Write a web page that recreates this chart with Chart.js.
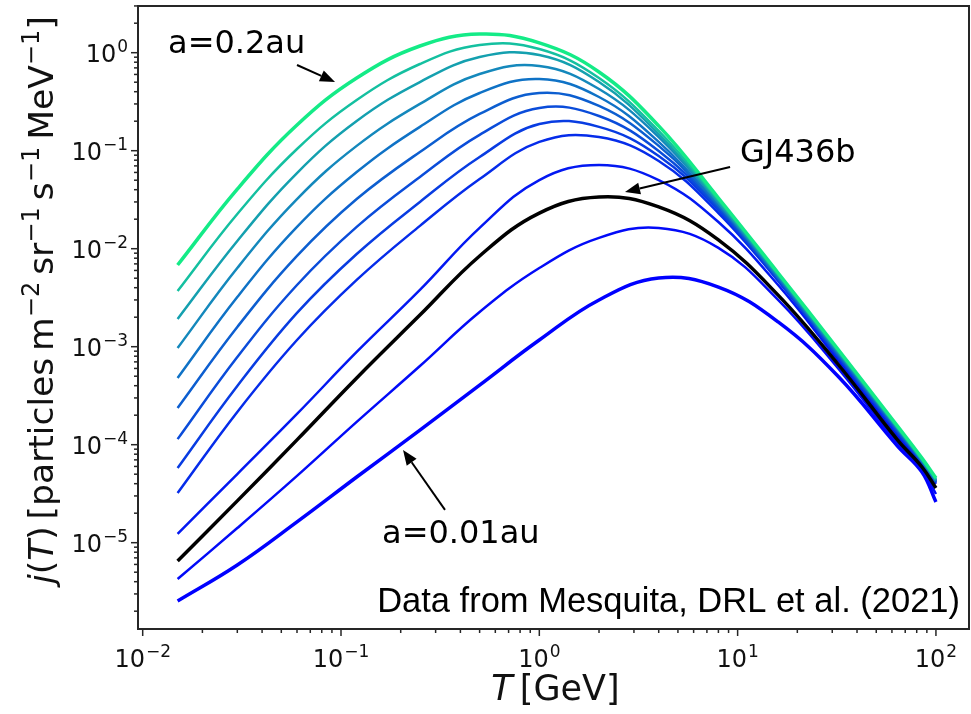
<!DOCTYPE html>
<html lang="en">
<head>
    <meta charset="UTF-8">
    <title>Cosmic ray spectra vs orbital distance</title>
    <style>
        html, body {
            margin: 0;
            padding: 0;
            background: #fff;
        }
        #wrap {
            width: 971px;
            height: 714px;
        }
    </style>
</head>
<body>
    <div id="wrap"><canvas id="crChart" width="971" height="714"></canvas></div>

    <script src="https://cdn.jsdelivr.net/npm/chart.js"></script>
    <script>
        // kinetic energy T [GeV]
        const energies = [0.015, 0.03, 0.06, 0.12, 0.25, 0.5, 1, 2, 4, 8, 16, 32, 64, 85, 100];

        // j(T) for each orbital distance, outermost (a=0.2au) first
        const flux01 = [6.82e-3, 4.06e-2, 0.183, 0.552, 1.17, 1.55, 1.26, 0.636, 0.179, 3.29e-2, 5.65e-3, 9.48e-4, 1.55e-4, 7.31e-5, 4.57e-5];
        const flux02 = [3.70e-3, 2.26e-2, 0.104, 0.329, 0.767, 1.20, 1.09, 0.552, 0.159, 3.14e-2, 5.52e-3, 9.25e-4, 1.52e-4, 7.14e-5, 4.47e-5];
        const flux03 = [1.92e-3, 1.20e-2, 5.92e-2, 0.201, 0.502, 0.904, 0.948, 0.502, 0.148, 3.00e-2, 5.39e-3, 9.04e-4, 1.48e-4, 6.98e-5, 4.36e-5];
        const flux04 = [9.70e-4, 6.35e-3, 3.21e-2, 0.112, 0.300, 0.606, 0.732, 0.426, 0.138, 2.93e-2, 5.26e-3, 8.83e-4, 1.48e-4, 6.98e-5, 4.36e-5];
        const flux05 = [4.80e-4, 3.21e-3, 1.67e-2, 6.06e-2, 0.175, 0.388, 0.539, 0.353, 0.123, 2.79e-2, 5.14e-3, 8.63e-4, 1.45e-4, 6.82e-5, 4.27e-5];
        const flux06 = [2.37e-4, 1.59e-3, 8.43e-3, 3.21e-2, 9.70e-2, 0.237, 0.388, 0.286, 0.112, 2.73e-2, 5.02e-3, 8.42e-4, 1.41e-4, 6.82e-5, 4.27e-5];
        const flux07 = [1.14e-4, 7.85e-4, 4.26e-3, 1.67e-2, 5.39e-2, 0.145, 0.273, 0.226, 9.93e-2, 2.60e-2, 4.91e-3, 8.22e-4, 1.38e-4, 6.66e-5, 4.16e-5];
        const flux08 = [5.78e-5, 3.97e-4, 2.21e-3, 8.83e-3, 3.00e-2, 8.62e-2, 0.187, 0.175, 8.83e-2, 2.48e-2, 4.80e-3, 8.04e-4, 1.35e-4, 6.66e-5, 4.16e-5];
        const flux09 = [3.21e-5, 2.16e-4, 1.17e-3, 4.80e-3, 1.71e-2, 5.14e-2, 0.123, 0.138, 7.85e-2, 2.31e-2, 4.68e-3, 7.85e-4, 1.32e-4, 6.51e-5, 4.07e-5];
        const flux10 = [1.23e-5, 5.02e-5, 2.06e-4, 8.83e-4, 3.79e-3, 1.63e-2, 5.02e-2, 7.15e-2, 5.02e-2, 1.87e-2, 4.26e-3, 7.32e-4, 1.23e-4, 6.35e-5, 3.97e-5];
        const fluxGJ436b = [6.51e-6, 2.67e-5, 1.12e-4, 4.80e-4, 2.10e-3, 8.43e-3, 2.31e-2, 3.37e-2, 2.67e-2, 1.23e-2, 3.36e-3, 6.66e-4, 1.12e-4, 5.92e-5, 3.61e-5];
        const flux12 = [4.26e-6, 1.41e-5, 4.80e-5, 1.71e-4, 6.35e-4, 2.26e-3, 6.35e-3, 1.29e-2, 1.63e-2, 1.02e-2, 3.00e-3, 6.06e-4, 1.04e-4, 5.65e-5, 3.14e-5];
        const flux13 = [2.54e-6, 5.92e-6, 1.63e-5, 4.68e-5, 1.41e-4, 4.06e-4, 1.17e-3, 3.00e-3, 5.02e-3, 4.06e-3, 1.79e-3, 5.03e-4, 9.70e-5, 5.26e-5, 2.60e-5];

        const seriesLabels = ['a=0.2au', 'curve 2', 'curve 3', 'curve 4', 'curve 5', 'curve 6', 'curve 7',
                              'curve 8', 'curve 9', 'curve 10', 'GJ436b', 'curve 12', 'a=0.01au'];
        const seriesData = [flux01, flux02, flux03, flux04, flux05, flux06, flux07,
                            flux08, flux09, flux10, fluxGJ436b, flux12, flux13];
        // "winter"-like colours, green at large a, blue at small a
        const seriesColors = ['rgb(20,235,135)', 'rgb(20,192,160)', 'rgb(20,160,175)', 'rgb(20,136,188)',
                              'rgb(15,114,198)', 'rgb(12,94,208)', 'rgb(10,76,218)', 'rgb(8,60,226)',
                              'rgb(5,44,234)', 'rgb(3,24,242)', '#000000', 'rgb(2,10,248)', 'rgb(0,0,255)'];
        const seriesWidths = [3.5, 2.5, 2.5, 2.5, 2.5, 2.5, 2.5, 2.5, 2.5, 2.5, 3.5, 2.5, 3.5];

        // axis ranges
        const xMin = 0.00947, xMax = 146.8;
        const yMin = 1.316e-6, yMax = 2.996;
        const xMajor = [-2, -1, 0, 1, 2];
        const yMajor = [-5, -4, -3, -2, -1, 0];

        // annotations, positions in data units [T, j]
        const noteTexts = ['a=0.2au', 'GJ436b', 'a=0.01au'];
        const noteAt = [[0.01342, 0.993], [10.28, 0.0767], [0.161, 9.93e-6]];
        const arrowFrom = [[0.060, 0.749], [9.16, 0.0682], [0.3345, 2.16e-5]];
        const arrowTo = [[0.0933, 0.502], [2.705, 0.0379], [0.2055, 8.83e-5]];
        const creditText = 'Data from Mesquita, DRL et al. (2021)';
        const creditAt = [132.3, 1.96e-6];

        const datasets = seriesData.map((vals, i) => ({
            label: seriesLabels[i],
            data: energies.map((t, k) => ({ x: t, y: vals[k] })),
            borderColor: seriesColors[i],
            borderWidth: seriesWidths[i],
            pointRadius: 0,
            fill: false,
            tension: 0.4,
            order: seriesLabels[i] === 'GJ436b' ? 0 : 1
        }));

        const FONT = '"DejaVu Sans", sans-serif';

        function sup(n) {
            return n < 0 ? '\u2212' + (-n) : String(n);
        }

        // "10" with a raised exponent, anchored at x (right or centre), baseline y
        function drawPower(ctx, exp, x, y, align) {
            ctx.font = '24px ' + FONT;
            const baseW = ctx.measureText('10').width;
            ctx.font = '17px ' + FONT;
            const expW = ctx.measureText(sup(exp)).width;
            const total = baseW + 1 + expW;
            const left = align === 'right' ? x - total : x - total / 2;
            ctx.textAlign = 'left';
            ctx.textBaseline = 'alphabetic';
            ctx.font = '24px ' + FONT;
            ctx.fillText('10', left, y);
            ctx.font = '17px ' + FONT;
            ctx.fillText(sup(exp), left + baseW + 1, y - 10);
        }

        // draw a list of text runs one after another along the baseline
        function drawRuns(ctx, runs, size, startX, baseY) {
            let x = startX;
            runs.forEach(r => {
                const s = r.sup ? size * 0.7 : size;
                ctx.font = (r.it ? 'italic ' : '') + s + 'px ' + FONT;
                ctx.fillText(r.t, x, r.sup ? baseY - size * 0.42 : baseY);
                x += ctx.measureText(r.t).width;
            });
            return x - startX;
        }

        function runsWidth(ctx, runs, size) {
            let w = 0;
            runs.forEach(r => {
                const s = r.sup ? size * 0.7 : size;
                ctx.font = (r.it ? 'italic ' : '') + s + 'px ' + FONT;
                w += ctx.measureText(r.t).width;
            });
            return w;
        }

        function drawArrow(ctx, x0, y0, x1, y1) {
            const ang = Math.atan2(y1 - y0, x1 - x0);
            const head = 15, half = 6;
            const bx = x1 - head * Math.cos(ang), by = y1 - head * Math.sin(ang);
            ctx.strokeStyle = '#000';
            ctx.lineWidth = 2;
            ctx.beginPath();
            ctx.moveTo(x0, y0);
            ctx.lineTo(bx, by);
            ctx.stroke();
            ctx.fillStyle = '#000';
            ctx.beginPath();
            ctx.moveTo(x1, y1);
            ctx.lineTo(bx + half * Math.sin(ang), by - half * Math.cos(ang));
            ctx.lineTo(bx - half * Math.sin(ang), by + half * Math.cos(ang));
            ctx.closePath();
            ctx.fill();
        }

        const axesPlugin = {
            id: 'mplAxes',
            afterDraw(chart) {
                const ctx = chart.ctx;
                const xs = chart.scales.x, ys = chart.scales.y;
                const a = chart.chartArea;
                ctx.save();

                // frame
                ctx.strokeStyle = '#262626';
                ctx.lineWidth = 2;
                ctx.strokeRect(a.left, a.top, a.right - a.left, a.bottom - a.top);

                // tick marks
                ctx.lineWidth = 1.5;
                for (let e = -3; e <= 2; e++) {
                    for (let m = 1; m <= 9; m++) {
                        const v = m * Math.pow(10, e);
                        if (v >= xMin && v <= xMax) {
                            const px = xs.getPixelForValue(v);
                            const len = m === 1 ? 7 : 4;
                            ctx.beginPath();
                            ctx.moveTo(px, a.bottom);
                            ctx.lineTo(px, a.bottom + len);
                            ctx.stroke();
                        }
                    }
                }
                for (let e = -6; e <= 0; e++) {
                    for (let m = 1; m <= 9; m++) {
                        const v = m * Math.pow(10, e);
                        if (v >= yMin * 0.999 && v <= yMax * 1.002) {
                            const py = ys.getPixelForValue(v);
                            const len = m === 1 ? 7 : 4;
                            ctx.beginPath();
                            ctx.moveTo(a.left, py);
                            ctx.lineTo(a.left - len, py);
                            ctx.stroke();
                        }
                    }
                }

                // tick labels
                ctx.fillStyle = '#111';
                xMajor.forEach(e => {
                    drawPower(ctx, e, xs.getPixelForValue(Math.pow(10, e)), a.bottom + 38, 'center');
                });
                yMajor.forEach(e => {
                    drawPower(ctx, e, a.left - 10, ys.getPixelForValue(Math.pow(10, e)) + 9, 'right');
                });

                // axis titles
                ctx.textAlign = 'left';
                ctx.textBaseline = 'alphabetic';
                const xRuns = [{ t: 'T', it: true }, { t: '\u2009[GeV]' }];
                const xSize = 35;
                const xw = runsWidth(ctx, xRuns, xSize);
                drawRuns(ctx, xRuns, xSize, (a.left + a.right) / 2 + 2 - xw / 2, 700);

                const yRuns = [
                    { t: 'j', it: true }, { t: '(' }, { t: 'T', it: true }, { t: ')\u2009[particles\u2009m' },
                    { t: '\u22122', sup: true }, { t: '\u2009sr' }, { t: '\u22121', sup: true },
                    { t: '\u2009s' }, { t: '\u22121', sup: true }, { t: '\u2009MeV' }, { t: '\u22121', sup: true }, { t: ']' }
                ];
                const ySize = 34.5;
                const yw = runsWidth(ctx, yRuns, ySize);
                ctx.save();
                ctx.translate(53, 300);
                ctx.rotate(-Math.PI / 2);
                drawRuns(ctx, yRuns, ySize, -yw / 2, 0);
                ctx.restore();

                // annotations
                ctx.fillStyle = '#000';
                ctx.font = '32px ' + FONT;
                noteTexts.forEach((txt, i) => {
                    ctx.fillText(txt, xs.getPixelForValue(noteAt[i][0]), ys.getPixelForValue(noteAt[i][1]));
                    drawArrow(ctx,
                        xs.getPixelForValue(arrowFrom[i][0]), ys.getPixelForValue(arrowFrom[i][1]),
                        xs.getPixelForValue(arrowTo[i][0]), ys.getPixelForValue(arrowTo[i][1]));
                });

                ctx.font = '34.5px "Liberation Sans", Arial, sans-serif';
                ctx.textAlign = 'right';
                ctx.fillText(creditText, xs.getPixelForValue(creditAt[0]), ys.getPixelForValue(creditAt[1]));

                ctx.restore();
            }
        };

        const ctx = document.getElementById('crChart').getContext('2d');
        const crChart = new Chart(ctx, {
            type: 'line',
            data: { datasets: datasets },
            options: {
                responsive: false,
                animation: false,
                devicePixelRatio: 1,
                layout: { padding: { left: 138, right: 2, top: 6, bottom: 85 } },
                plugins: {
                    legend: { display: false },
                    tooltip: { enabled: false }
                },
                scales: {
                    x: { type: 'logarithmic', min: xMin, max: xMax, display: false },
                    y: { type: 'logarithmic', min: yMin, max: yMax, display: false }
                }
            },
            plugins: [axesPlugin]
        });
    </script>
</body>
</html>
